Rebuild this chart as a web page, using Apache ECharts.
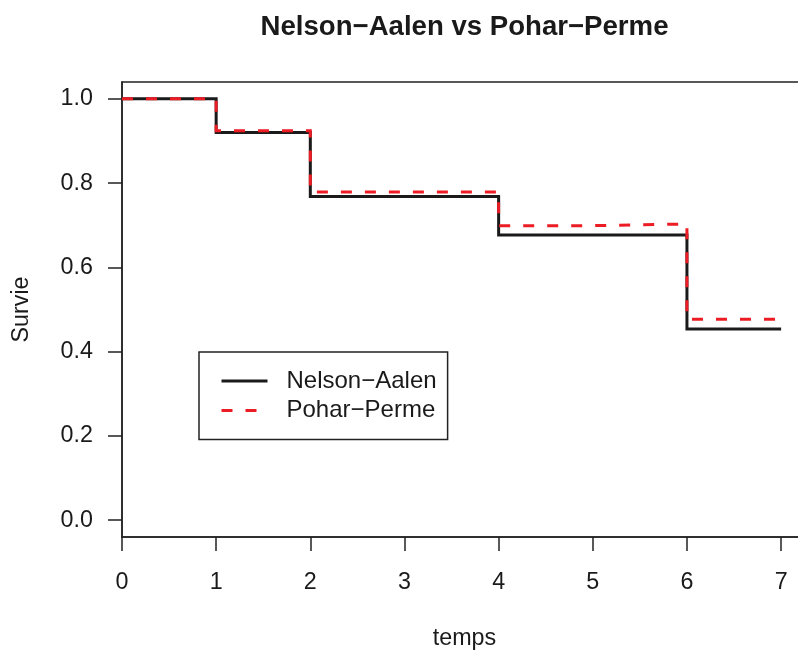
<!DOCTYPE html>
<html>
<head>
<meta charset="utf-8">
<script src="https://cdn.jsdelivr.net/npm/echarts@6/dist/echarts.min.js"></script>
<style>
html,body{margin:0;padding:0;background:#fff;}
#main{width:798px;height:650px;}
</style>
</head>
<body>
<div id="main"></div>
<script>
var seriesNames = ['Nelson\u2212Aalen', 'Pohar\u2212Perme'];
var naTimes = [0, 1, 2, 4, 6, 7];
var naSurv = [1.0, 0.920, 0.768, 0.677, 0.454, 0.454];
var ppTimes = [0, 1, 2, 4, 5, 6, 7];
var ppSurv = [1.0, 0.924, 0.779, 0.699, 0.703, 0.477, 0.477];
var xTicks = [0, 1, 2, 3, 4, 5, 6, 7];
var yTicks = [0, 0.2, 0.4, 0.6, 0.8, 1.0];

function pairs(xs, ys) { return xs.map(function (x, i) { return [x, ys[i]]; }); }

var chart = echarts.init(document.getElementById('main'), null, {renderer: 'canvas'});
var font = "'Liberation Sans', Arial, Helvetica, sans-serif";
var ink = '#1a1a1a';
var fs = 23.3;
chart.setOption({
  animation: false,
  backgroundColor: '#ffffff',
  title: {
    text: 'Nelson\u2212Aalen vs Pohar\u2212Perme',
    left: 459.5, top: 8, textAlign: 'center',
    textStyle: {fontFamily: font, fontSize: 27.6, fontWeight: 'bold', color: ink}
  },
  grid: {
    left: 122, top: 82, width: 685, height: 455,
    show: true, borderColor: '#222', borderWidth: 1.5, backgroundColor: 'transparent',
    containLabel: false,
    outerBoundsMode: 'none'
  },
  legend: {
    orient: 'vertical',
    left: 199, top: 352,
    data: seriesNames,
    itemWidth: 46, itemHeight: 22, itemGap: 5.5,
    padding: [17, 11, 17, 21],
    borderColor: '#222', borderWidth: 1.5,
    itemStyle: {opacity: 0},
    lineStyle: {width: 3},
    textStyle: {fontFamily: font, fontSize: 24, color: ink, padding: [0, 0, 0, 14]},
    selectedMode: false
  },
  xAxis: {
    type: 'value', min: 0, max: 7.275,
    name: 'temps', nameLocation: 'middle', nameGap: 90,
    nameTextStyle: {fontFamily: font, fontSize: fs, color: ink},
    axisLine: {show: true, onZero: false, lineStyle: {color: '#222', width: 1.5}},
    axisTick: {show: true, customValues: xTicks, length: 14, lineStyle: {color: '#222', width: 1.5}},
    axisLabel: {customValues: xTicks, margin: 34, fontFamily: font, fontSize: fs, color: ink,
      formatter: function (v) { return String(v); }},
    splitLine: {show: false}
  },
  yAxis: {
    type: 'value', min: -0.04, max: 1.04,
    name: 'Survie', nameLocation: 'middle', nameGap: 89, nameRotate: 90,
    nameTextStyle: {fontFamily: font, fontSize: fs, color: ink},
    axisLine: {show: true, onZero: false, lineStyle: {color: '#222', width: 1.5}},
    axisTick: {show: true, customValues: yTicks, length: 14, lineStyle: {color: '#222', width: 1.5}},
    axisLabel: {customValues: yTicks, margin: 29, fontFamily: font, fontSize: fs, color: ink,
      formatter: function (v) { return v.toFixed(1); }},
    splitLine: {show: false}
  },
  series: [
    {
      name: seriesNames[0], type: 'line', step: 'end', symbol: 'none',
      data: pairs(naTimes, naSurv),
      lineStyle: {color: ink, width: 3, cap: 'butt', join: 'miter'},
      itemStyle: {color: ink}
    },
    {
      name: seriesNames[1], type: 'line', step: 'end', symbol: 'none',
      data: pairs(ppTimes, ppSurv),
      lineStyle: {color: '#ec1c24', width: 3, type: [11, 13], cap: 'butt', join: 'miter'},
      itemStyle: {color: '#ec1c24'}
    }
  ]
});
</script>
</body>
</html>
